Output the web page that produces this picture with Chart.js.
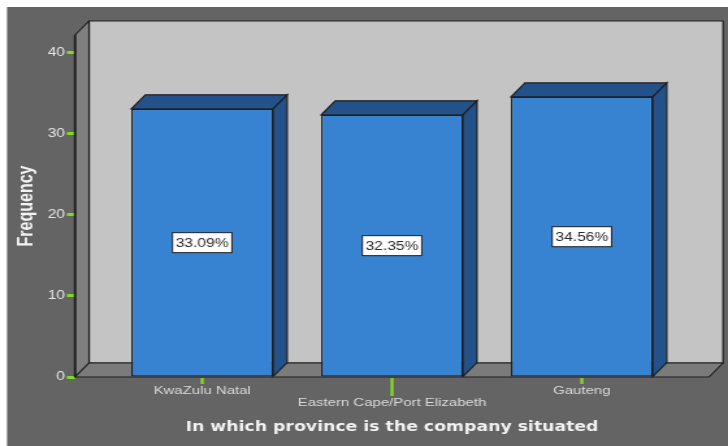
<!DOCTYPE html>
<html>
<head>
<meta charset="utf-8">
<title>In which province is the company situated</title>
<script src="https://cdn.jsdelivr.net/npm/chart.js@4.4.1/dist/chart.umd.min.js"></script>
<style>
  html, body { margin: 0; padding: 0; background: #ffffff; overflow: hidden; }
</style>
</head>
<body>
<!-- the chart is drawn on a narrow canvas and stretched sideways, like the exported SPSS picture -->
<canvas id="grafico" width="560" height="446" style="width:728px;height:446px"></canvas>
<script>
const provinces = ['KwaZulu Natal', 'Eastern Cape/Port Elizabeth', 'Gauteng'];
const percentages = [33.09, 32.35, 34.56];
const yTicks = [0, 10, 20, 30, 40];
const yMax = 42.2;

const DX = 10.8; // depth of the 3d box, sideways
const DY = 14;   // depth of the 3d box, upwards
const edge = '#1e1e1e';
const green = '#80dc20';

// filled polygon with an outline
const poly = (ctx, pts, fill) => {
    ctx.beginPath();
    ctx.moveTo(pts[0][0], pts[0][1]);
    pts.slice(1).forEach(p => ctx.lineTo(p[0], p[1]));
    ctx.closePath();
    ctx.fillStyle = fill;
    ctx.fill();
    ctx.stroke();
};

const box3d = {
    id: 'box3d',
    beforeDraw(chart) {
        const ctx = chart.ctx;
        ctx.save();
        ctx.fillStyle = '#ffffff';
        ctx.fillRect(0, 0, chart.width, chart.height);
        ctx.fillStyle = '#646464';
        ctx.fillRect(5.4, 7, chart.width, chart.height);
        ctx.restore();
    },
    beforeDatasetsDraw(chart) {
        // back wall, left wall and floor
        const {ctx, chartArea: {left, top, right, bottom}} = chart;
        ctx.save();
        ctx.strokeStyle = edge;
        ctx.lineWidth = 1.2;
        ctx.lineJoin = 'round';
        poly(ctx, [[left + DX, top - DY], [right + DX, top - DY], [right + DX, bottom - DY], [left + DX, bottom - DY]], '#c4c4c4');
        poly(ctx, [[left, top], [left + DX, top - DY], [left + DX, bottom - DY], [left, bottom]], '#7f7f7f');
        poly(ctx, [[left, bottom], [left + DX, bottom - DY], [right + DX, bottom - DY], [right, bottom]], '#7b7b7b');
        // front edge of the value axis
        ctx.lineWidth = 1.8;
        ctx.beginPath();
        ctx.moveTo(left, top);
        ctx.lineTo(left, bottom);
        ctx.stroke();
        ctx.restore();
    },
    afterDatasetsDraw(chart) {
        const ctx = chart.ctx;
        ctx.save();
        ctx.strokeStyle = edge;
        chart.getDatasetMeta(0).data.forEach((bar, i) => {
            const {x, y, base, width} = bar.getProps(['x', 'y', 'base', 'width'], true);
            const l = x - width / 2;
            const r = x + width / 2;
            ctx.lineWidth = 1.2;
            // top and right side of the bar
            poly(ctx, [[l, y], [l + DX, y - DY], [r + DX, y - DY], [r, y]], '#23528a');
            poly(ctx, [[r, y], [r + DX, y - DY], [r + DX, base - DY], [r, base]], '#23528a');

            // percentage box in the middle of the front face
            const text = percentages[i].toFixed(2) + '%';
            ctx.font = '12px "Liberation Sans", Arial, sans-serif';
            const w = ctx.measureText(text).width + 5;
            const cy = (y + base) / 2;
            ctx.fillStyle = '#ffffff';
            ctx.fillRect(x - w / 2, cy - 10, w, 20);
            ctx.lineWidth = 1;
            ctx.strokeRect(x - w / 2, cy - 10, w, 20);
            ctx.fillStyle = '#2a2a2a';
            ctx.textAlign = 'center';
            ctx.textBaseline = 'middle';
            ctx.fillText(text, x, cy + 1);
        });
        ctx.restore();
    },
    afterDraw(chart) {
        // green category ticks under the floor, longer for the lowered label
        const {ctx, scales: {x}} = chart;
        ctx.save();
        ctx.strokeStyle = green;
        ctx.lineWidth = 2.3;
        x.ticks.forEach((t, i) => {
            const px = x.getPixelForValue(t.value);
            ctx.beginPath();
            ctx.moveTo(px, x.top + 1);
            ctx.lineTo(px, x.top + (i % 2 ? 19 : 7));
            ctx.stroke();
        });
        ctx.restore();
    }
};

new Chart(document.getElementById('grafico'), {
    type: 'bar',
    data: {
        datasets: [{
            data: provinces.map((p, i) => ({x: i, y: percentages[i]})),
            backgroundColor: '#3783d1',
            borderColor: edge,
            borderWidth: 1.2,
            borderSkipped: false,
            barPercentage: 0.747,
            categoryPercentage: 1,
        }],
    },
    options: {
        responsive: false,
        animation: false,
        events: [],
        layout: {padding: {top: 35, right: 14.6, bottom: 0, left: 0}},
        plugins: {legend: {display: false}, tooltip: {enabled: false}},
        scales: {
            x: {
                type: 'linear',
                min: -0.67,
                max: 2.67,
                offset: false,
                afterFit: s => { s.height = 69; },
                afterBuildTicks: s => { s.ticks = provinces.map((p, i) => ({value: i})); },
                grid: {drawOnChartArea: false, drawTicks: false},
                border: {display: false},
                ticks: {
                    color: '#dadada',
                    font: {family: '"Liberation Sans", Arial, sans-serif', size: 11.5, lineHeight: 1.05},
                    padding: 8,
                    maxRotation: 0,
                    autoSkip: false,
                    // every second label sits one line lower
                    callback: (v, i) => (i % 2 ? ['', provinces[i]] : provinces[i]),
                },
                title: {
                    display: true,
                    text: 'In which province is the company situated',
                    color: '#f2f2f2',
                    font: {family: '"DejaVu Sans", Verdana, sans-serif', size: 13.3, weight: 'bold', lineHeight: 1.2},
                    padding: {top: 0, bottom: 10},
                },
            },
            y: {
                min: 0,
                max: yMax,
                afterFit: s => { s.width = 57.7; },
                afterBuildTicks: s => { s.ticks = yTicks.map(v => ({value: v})); },
                grid: {drawOnChartArea: false, tickLength: 6.2, tickWidth: 3, tickColor: green},
                border: {display: false},
                ticks: {
                    color: '#e6e6e6',
                    font: {family: '"Liberation Sans", Arial, sans-serif', size: 12},
                    padding: 1.5,
                },
                title: {
                    display: true,
                    text: 'Frequency',
                    color: '#f2f2f2',
                    font: {family: '"Liberation Sans", Arial, sans-serif', size: 16, weight: 'bold', lineHeight: 1.2},
                    padding: {top: 11.2, bottom: 0},
                },
            },
        },
    },
    plugins: [box3d],
});
</script>
</body>
</html>
